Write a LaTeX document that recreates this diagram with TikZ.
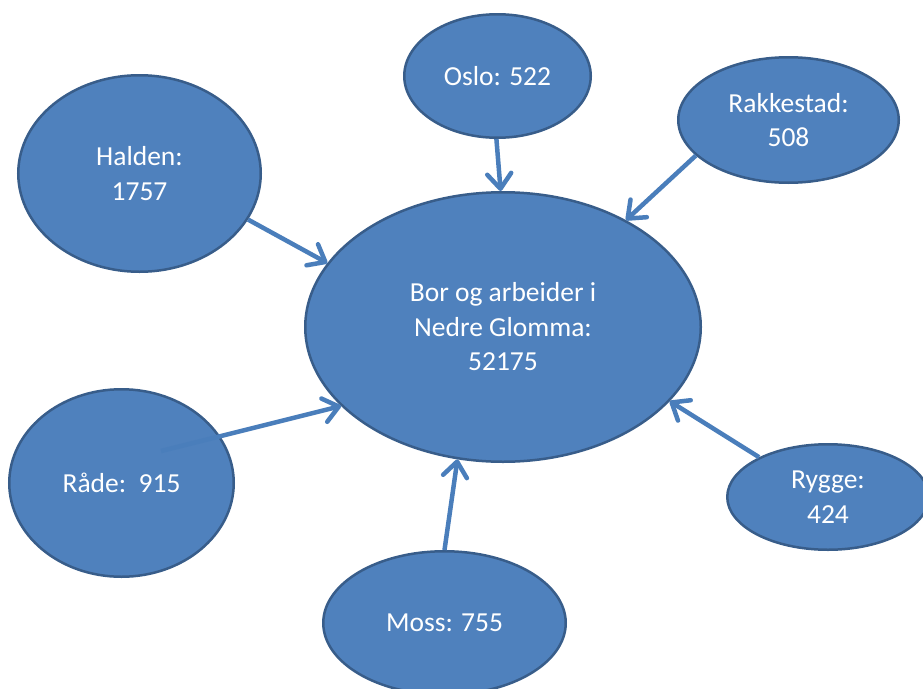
\documentclass[tikz,border=0pt]{standalone}
\usepackage{fontspec}
\setmainfont{Carlito}
\usetikzlibrary{shapes.geometric,arrows.meta}
\definecolor{blobfill}{HTML}{4F81BD}
\definecolor{blobedge}{HTML}{385D8A}
\definecolor{linkblue}{HTML}{4A7EBB}
\begin{document}
\begin{tikzpicture}[x=1pt,y=-1pt,
    town/.style={ellipse, draw=blobedge, fill=blobfill, line width=2.5pt,
        inner sep=0pt, align=center, text=white,
        font=\fontsize{27.5}{34.5}\selectfont},
    feed/.style={draw=linkblue, line width=4.5pt,
        -{Straight Barb[length=15pt,width=24pt,round]}}]
    \useasboundingbox (0,0) rectangle (923,688);
    \node[town, minimum width=395.5, minimum height=269.5] (hub) at (503,327)
        {Bor og arbeider i\\Nedre Glomma:\\52175};
    \node[town, minimum width=186.5, minimum height=123.5] (oslo) at (497.5,76) {Oslo: 522};
    \node[town, minimum width=220.5, minimum height=125.5] (rakkestad) at (788.5,120) {Rakkestad:\\508};
    \node[town, minimum width=242.5, minimum height=196.5] (halden) at (139.5,173.5) {Halden:\\1757};
    \node[town, minimum width=224.5, minimum height=187.5] (rade) at (121.5,483) {Råde:\ \ 915};
    \node[town, minimum width=242.5, minimum height=143.5] (moss) at (444.5,623) {Moss: 755};
    \node[town, minimum width=201.5, minimum height=105.5] (rygge) at (828,497) {Rygge:\\424};
    \coordinate (radetail) at (161,451);
    % arrows into the middle
    \draw[feed] (halden.337) -- (hub.160);
    \draw[feed] (oslo.269) -- (hub.91);
    \draw[feed] (rakkestad.201.6) -- (hub.41.6);
    \draw[feed] (radetail) -- (hub.206);
    \draw[feed] (moss.90) -- (hub.251);
    \draw[feed] (rygge.150.5) -- (hub.336);
\end{tikzpicture}
\end{document}
